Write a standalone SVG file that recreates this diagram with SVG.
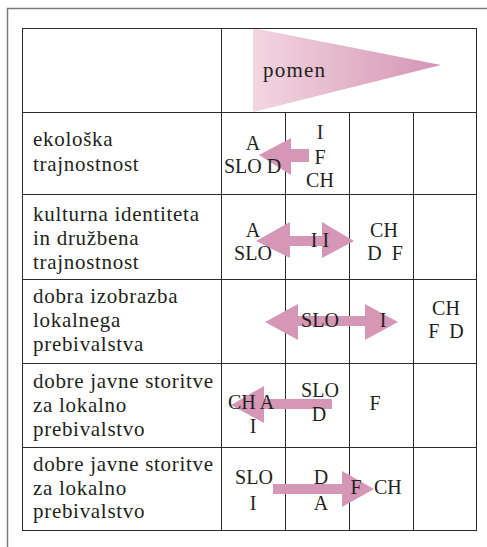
<svg xmlns="http://www.w3.org/2000/svg" width="487" height="547" viewBox="0 0 487 547">
<style>
.lbl{letter-spacing:0.7px;font-size:21px}
.c{text-anchor:middle}
.grid{stroke:#2b2b2b;stroke-width:1;fill:none}
.arr{fill:#d597b5}
</style>
<defs>
<linearGradient id="g" x1="0" y1="0" x2="1" y2="0">
<stop offset="0" stop-color="#f3d6e1"/>
<stop offset="1" stop-color="#d395b2"/>
</linearGradient>
</defs>
<rect x="0" y="0" width="487" height="547" fill="#fff"/>
<rect x="7.5" y="8.5" width="490" height="550" fill="none" stroke="#7a7a7a" stroke-width="1.5"/>
<g id="header" font-family="Liberation Serif, serif" font-size="20" fill="#231f20">
<polygon points="253,28 441,65 253,112" fill="url(#g)"/>
<text x="263" y="77" font-size="21" letter-spacing="1.2">pomen</text>
</g>
<g id="grid" class="grid">
<rect x="22.5" y="28.5" width="454" height="502"/>
<line x1="221.5" y1="28" x2="221.5" y2="531"/>
<line x1="285.5" y1="112" x2="285.5" y2="531"/>
<line x1="349.5" y1="112" x2="349.5" y2="531"/>
<line x1="413.5" y1="112" x2="413.5" y2="531"/>
<line x1="22" y1="112.5" x2="477" y2="112.5"/>
<line x1="22" y1="194.5" x2="477" y2="194.5"/>
<line x1="22" y1="279.5" x2="477" y2="279.5"/>
<line x1="22" y1="363.5" x2="477" y2="363.5"/>
<line x1="22" y1="447.5" x2="477" y2="447.5"/>
</g>
<g id="connectors">
<polygon class="arr" points="259,155 291,138 291,149 309,149 309,162 291,162 291,175"/>
<polygon class="arr" points="256,241 290,222 290,236 322,236 322,222 354,241 322,258 322,246 290,246 290,258"/>
<polygon class="arr" points="265,322 298,304 298,316 365,316 365,304 398,322 365,340 365,326 298,326 298,340"/>
<polygon class="arr" points="231,405 264,386 264,399 332,399 332,409 264,409 264,423"/>
<polygon class="arr" points="273,484 342,484 342,471 374,489 342,507 342,494 273,494"/>
</g>
<g id="row1" font-family="Liberation Serif, serif" font-size="20" fill="#231f20">
<text class="lbl" x="33" y="146">ekološka</text>
<text class="lbl" x="33" y="171">trajnostnost</text>
<text class="c" x="253" y="150">A</text>
<text x="224" y="173">SLO D</text>
<text class="c" x="320" y="139">I</text>
<text class="c" x="320" y="164">F</text>
<text class="c" x="320" y="187">CH</text>
</g>
<g id="row2" font-family="Liberation Serif, serif" font-size="20" fill="#231f20">
<text class="lbl" x="33" y="221">kulturna identiteta</text>
<text class="lbl" x="33" y="245">in družbena</text>
<text class="lbl" x="33" y="269">trajnostnost</text>
<text class="c" x="253" y="237">A</text>
<text class="c" x="253" y="260">SLO</text>
<text class="c" x="320" y="247">I I</text>
<text class="c" x="384" y="237">CH</text>
<text class="c" x="385" y="260" xml:space="preserve">D  F</text>
</g>
<g id="row3" font-family="Liberation Serif, serif" font-size="20" fill="#231f20">
<text class="lbl" x="33" y="303">dobra izobrazba</text>
<text class="lbl" x="33" y="327">lokalnega</text>
<text class="lbl" x="33" y="351">prebivalstva</text>
<text class="c" x="320" y="327">SLO</text>
<text class="c" x="383" y="327">I</text>
<text class="c" x="446" y="315">CH</text>
<text class="c" x="446" y="338" xml:space="preserve">F  D</text>
</g>
<g id="row4" font-family="Liberation Serif, serif" font-size="20" fill="#231f20">
<text class="lbl" x="33" y="388">dobre javne storitve</text>
<text class="lbl" x="33" y="412">za lokalno</text>
<text class="lbl" x="33" y="436">prebivalstvo</text>
<text x="228" y="409">CH A</text>
<text class="c" x="253" y="433">I</text>
<text class="c" x="320" y="397">SLO</text>
<text class="c" x="319" y="421">D</text>
<text class="c" x="375" y="410">F</text>
</g>
<g id="row5" font-family="Liberation Serif, serif" font-size="20" fill="#231f20">
<text class="lbl" x="33" y="471">dobre javne storitve</text>
<text class="lbl" x="33" y="495">za lokalno</text>
<text class="lbl" x="33" y="518">prebivalstvo</text>
<text class="c" x="254" y="484">SLO</text>
<text class="c" x="253" y="510">I</text>
<text class="c" x="321" y="484">D</text>
<text class="c" x="321" y="510">A</text>
<text class="c" x="356" y="494">F</text>
<text x="374" y="494">CH</text>
</g>
</svg>
